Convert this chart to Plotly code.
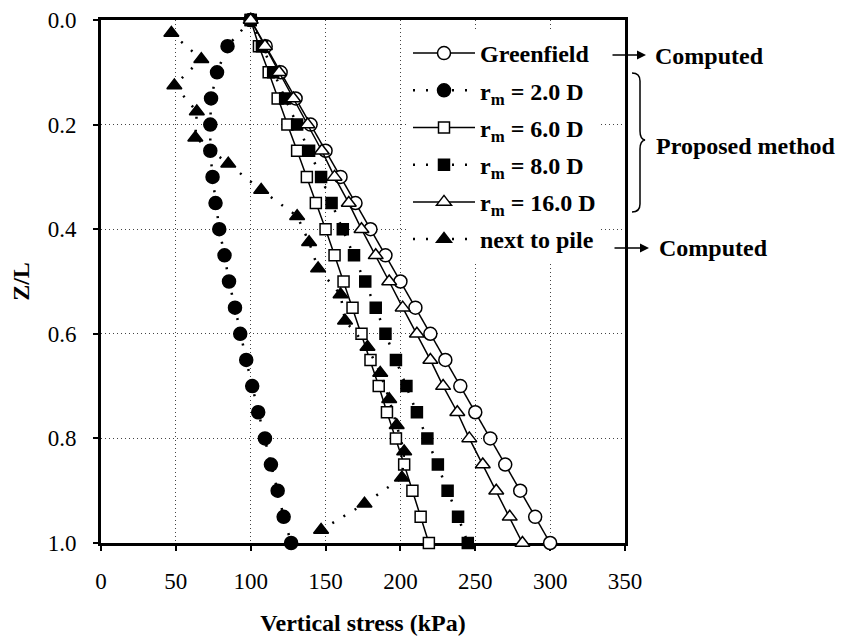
import plotly.graph_objects as go

# ---------------- data ----------------
z = [0.0, 0.05, 0.1, 0.15, 0.2, 0.25, 0.3, 0.35, 0.4, 0.45, 0.5,
     0.55, 0.6, 0.65, 0.7, 0.75, 0.8, 0.85, 0.9, 0.95, 1.0]
greenfield = [100, 110, 120, 130, 140, 150, 160, 170, 180, 190, 200,
              210, 220, 230, 240, 250, 260, 270, 280, 290, 300]
rm_2D = [100, 84.5, 77.5, 73.5, 73, 73, 74.5, 76.5, 79, 82.5, 85.5,
         89.5, 93, 97, 101, 105, 109.5, 113.5, 118, 122, 127]
rm_6D = [100, 105.5, 112, 118, 124.5, 131, 137.5, 143.5, 150, 156, 162,
         168, 174, 180, 185.5, 191, 197, 202.5, 208, 213.5, 219]
rm_8D = [100, 107.5, 115, 123, 131, 139, 147, 154, 161.5, 169, 176.5,
         183.5, 190, 197, 204, 211, 218, 225, 231.5, 238.5, 245]
rm_16D = [100, 109.5, 119, 128.5, 138, 147.5, 156, 165.5, 174, 183.5, 192.5,
          201.5, 211, 220, 228.5, 238, 246, 255, 264, 273, 281.5]
pile_z = [0.025, 0.075, 0.125, 0.175, 0.225, 0.275, 0.325, 0.375, 0.425, 0.475,
          0.525, 0.575, 0.625, 0.675, 0.725, 0.775, 0.825, 0.875, 0.925, 0.975]
next_to_pile = [47, 67, 49, 64, 63, 85, 107, 131, 139, 145,
                160, 163, 178, 186.5, 192.5, 197.5, 202.5, 201, 176, 147]

x_ticks = [0, 50, 100, 150, 200, 250, 300, 350]
y_ticks = [0.0, 0.2, 0.4, 0.6, 0.8, 1.0]

names = ["<b>Greenfield</b>", "<b>r<sub>m</sub> = 2.0 D</b>", "<b>r<sub>m</sub> = 6.0 D</b>",
         "<b>r<sub>m</sub> = 8.0 D</b>", "<b>r<sub>m</sub> = 16.0 D</b>", "<b>next to pile</b>"]

# ---------------- figure ----------------
W, H = 841, 637
ML, MR, MT, MB = 101, 216, 20, 94
PW, PH = W - ML - MR, H - MT - MB

def px(xp):
    return (xp - ML) / PW

def py(yp):
    return (H - MB - yp) / PH

FONT = "Liberation Serif"
solid = dict(color="black", width=1.5)
dotted = dict(color="black", width=2.5, dash="2px,11px")

series = [
    (greenfield, z, "circle", "white", solid, 13),
    (rm_2D, z, "circle", "black", dotted, 13),
    (rm_6D, z, "square", "white", solid, 11),
    (rm_8D, z, "square", "black", dotted, 11),
    (rm_16D, z, "triangle-up", "white", solid, 13),
    (next_to_pile, pile_z, "triangle-up", "black", dotted, 13),
]

fig = go.Figure()
for i, (xs, ys, sym, fill, ln, sz) in enumerate(series):
    fig.add_trace(go.Scatter(
        x=xs, y=ys, mode="lines+markers", name=names[i],
        line=ln, cliponaxis=False, legendgroup=str(i),
        marker=dict(symbol=sym, size=sz, color=fill,
                    line=dict(color="black", width=1.5)),
    ))

axis_common = dict(
    showline=True, linecolor="black", linewidth=3, mirror=True,
    ticks="outside", ticklen=5, tickwidth=1.5, tickcolor="black",
    showgrid=True, gridcolor="#444", gridwidth=1, griddash="1px,3px",
    zeroline=False, layer="below traces",
    tickfont=dict(family=FONT, size=23, color="black"),
)

fig.update_xaxes(
    range=[0, 350], tickvals=x_ticks,
    title=dict(text="<b>Vertical stress (kPa)</b>",
               font=dict(family=FONT, size=24, color="black"), standoff=22),
    ticklabelstandoff=10, **axis_common)
fig.update_yaxes(
    range=[1, 0], tickvals=y_ticks, tickformat=".1f",
    title=dict(text="<b>Z/L</b>",
               font=dict(family=FONT, size=24, color="black"), standoff=12),
    ticklabelstandoff=12, **axis_common)

fig.update_layout(
    width=W, height=H,
    margin=dict(l=ML, r=MR, t=MT, b=MB, autoexpand=False),
    paper_bgcolor="white", plot_bgcolor="white",
    showlegend=True,
    legend=dict(x=px(408), y=py(31), xanchor="left", yanchor="top",
                bgcolor="white", borderwidth=0,
                font=dict(family=FONT, size=24, color="black"),
                itemwidth=62, traceorder="grouped", tracegroupgap=3),
    font=dict(family=FONT, color="black"),
)

ann_font = dict(family=FONT, size=24, color="black")
# arrows
for (x0, x1, yy) in [(611, 646, 55), (613, 649, 248)]:
    fig.add_annotation(x=px(x1), y=py(yy), xref="paper", yref="paper",
                       ax=x0 - x1, ay=0, axref="pixel", ayref="pixel",
                       showarrow=True, arrowhead=2, arrowsize=1.2,
                       arrowwidth=1.5, arrowcolor="black", text="")
fig.add_annotation(x=px(653), y=py(56), xref="paper", yref="paper",
                   text="<b>Computed</b>", showarrow=False,
                   xanchor="left", yanchor="middle", font=ann_font)
fig.add_annotation(x=px(657), y=py(248), xref="paper", yref="paper",
                   text="<b>Computed</b>", showarrow=False,
                   xanchor="left", yanchor="middle", font=ann_font)
fig.add_annotation(x=px(654), y=py(146), xref="paper", yref="paper",
                   text="<b>Proposed method</b>", showarrow=False,
                   xanchor="left", yanchor="middle", font=ann_font)

# curly brace
def P(xp, yp):
    return f"{px(xp)},{py(yp)}"

brace = (f"M{P(632, 73)} Q{P(640, 73)} {P(640, 81)} L{P(640, 131)} "
         f"Q{P(640, 139)} {P(645, 140)} Q{P(640, 141)} {P(640, 149)} "
         f"L{P(640, 204)} Q{P(640, 212)} {P(632, 212)}")
fig.add_shape(type="path", path=brace, xref="paper", yref="paper",
              line=dict(color="black", width=1.5))

fig.write_html("out.html")
